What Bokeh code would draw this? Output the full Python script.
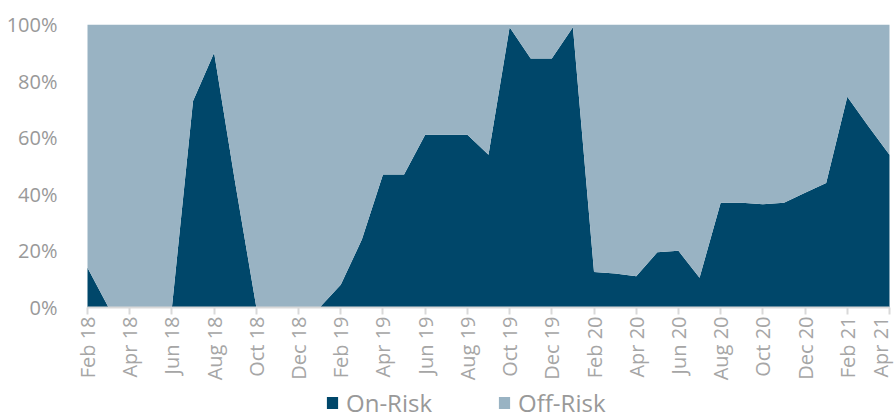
import math
from bokeh.plotting import figure
from bokeh.models import ColumnDataSource, FixedTicker, Legend, LegendItem, Range1d
from bokeh.embed import file_html
from bokeh.resources import INLINE

months = ["Feb 18", "Mar 18", "Apr 18", "May 18", "Jun 18", "Jul 18", "Aug 18", "Sep 18",
          "Oct 18", "Nov 18", "Dec 18", "Jan 19", "Feb 19", "Mar 19", "Apr 19", "May 19",
          "Jun 19", "Jul 19", "Aug 19", "Sep 19", "Oct 19", "Nov 19", "Dec 19", "Jan 20",
          "Feb 20", "Mar 20", "Apr 20", "May 20", "Jun 20", "Jul 20", "Aug 20", "Sep 20",
          "Oct 20", "Nov 20", "Dec 20", "Jan 21", "Feb 21", "Mar 21", "Apr 21"]
on_risk = [14, 0, 0, 0, 0, 73, 90, 44, 0, 0, 0, 0, 8, 24, 47, 47, 61, 61, 61, 54,
           99, 88, 88, 99, 12.5, 12, 11, 19.5, 20, 10.5, 37, 37, 36.5, 37, 40.5, 44, 74.5, 64, 54]
series_names = ["On-Risk", "Off-Risk"]
series_colors = ["#00476A", "#99B3C3"]
y_ticks = [0, 20, 40, 60, 80, 100]

x = list(range(len(months)))
off_risk = [100 - v for v in on_risk]
src = ColumnDataSource(dict(x=x, on=on_risk, off=off_risk))

# frame extends below 0 (and slightly beyond the data in x) so the axis labels
# and legend sit inside it without being clipped
p = figure(frame_width=817, frame_height=395, output_backend="svg", toolbar_location=None,
           x_range=Range1d(-0.474, len(months) - 1 + 0.237), y_range=Range1d(-39.6, 100),
           min_border_left=77, min_border_right=0, min_border_top=24, min_border_bottom=0)
p.outline_line_color = None
p.background_fill_color = "white"

rs = p.varea_stack(["on", "off"], x="x", source=src, color=series_colors)

# x axis pinned at 0
tick_pos = x[::2]
p.xaxis.fixed_location = 0
p.xaxis.bounds = (0, len(months) - 1)
p.xaxis.ticker = FixedTicker(ticks=tick_pos)
p.xaxis.major_label_overrides = {i: months[i] for i in tick_pos}
p.xaxis.major_label_orientation = math.pi / 2
p.xaxis.major_label_text_font = "Open Sans"
p.xaxis.major_label_text_font_size = "20px"
p.xaxis.major_label_text_color = "#a6a6a6"
p.xaxis.axis_line_color = "#d9d9d9"
p.xaxis.axis_line_width = 2
p.xaxis.major_tick_line_color = "#d9d9d9"
p.xaxis.major_tick_line_width = 2
p.xaxis.major_tick_out = 7
p.xaxis.major_tick_in = 0
p.xaxis.minor_tick_line_color = None
p.xaxis.major_label_standoff = 2

p.yaxis.ticker = FixedTicker(ticks=y_ticks)
p.yaxis.major_label_overrides = {v: f"{v}%" for v in y_ticks}
p.yaxis.major_label_text_font = "Open Sans"
p.yaxis.major_label_text_font_size = "20px"
p.yaxis.major_label_text_color = "#999999"
p.yaxis.axis_line_color = None
p.yaxis.major_tick_line_color = None
p.yaxis.minor_tick_line_color = None
p.yaxis.major_label_standoff = 14

p.xgrid.grid_line_color = None
p.ygrid.ticker = FixedTicker(ticks=[100])
p.ygrid.bounds = (0, len(months) - 1)
p.ygrid.grid_line_color = "#dddddd"
p.ygrid.grid_line_width = 3
p.ygrid.level = "overlay"

legend = Legend(items=[LegendItem(label=series_names[0], renderers=[rs[0]]),
                       LegendItem(label=series_names[1], renderers=[rs[1]])],
                orientation="horizontal", location=(248, 0))
legend.label_text_font = "Open Sans"
legend.label_text_font_size = "24px"
legend.label_text_color = "#999999"
legend.label_height = 20
legend.glyph_width = 14
legend.glyph_height = 15
legend.label_standoff = 7
legend.spacing = 65
legend.padding = 0
legend.margin = 0
legend.border_line_color = None
legend.background_fill_alpha = 0
p.add_layout(legend, "center")

open("out.html", "w").write(file_html(p, INLINE))
